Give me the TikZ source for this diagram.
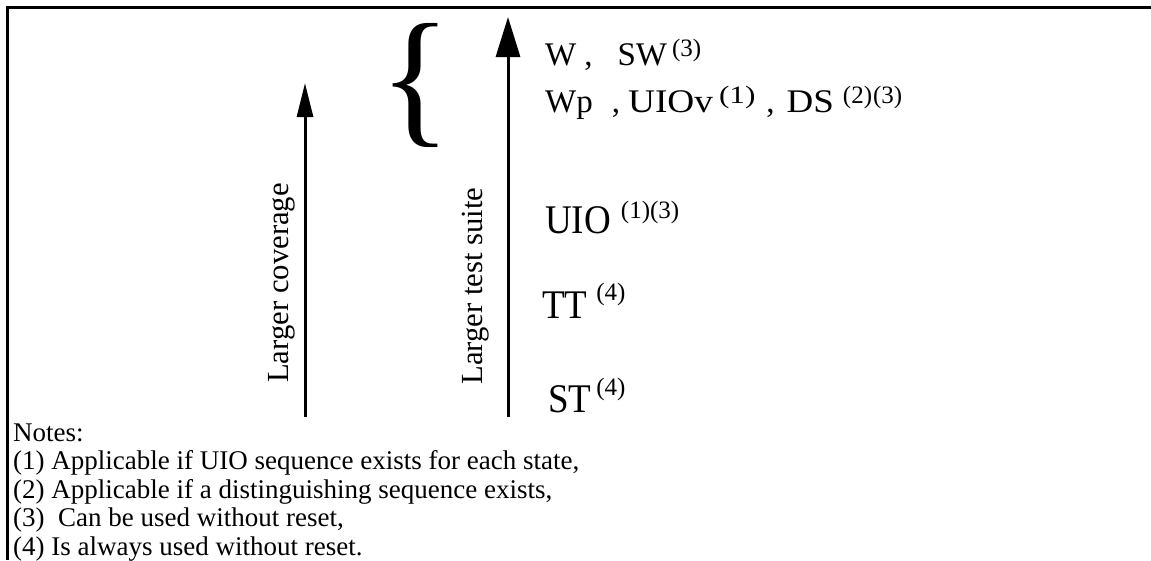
\documentclass[tikz,border=0pt]{standalone}
\usepackage{graphicx}
\usepackage{fontspec}
\setmainfont{Liberation Serif}
\usetikzlibrary{arrows.meta}
\newcommand\fsz[1]{\fontsize{#1}{#1}\selectfont}
% superscript note marker: raise, then text
\newcommand\supr[2]{\raisebox{#1pt}{\fsz{25}#2}}
\newcommand\wider[2]{\scalebox{#1}[1]{#2}}
\newcommand\taller[1]{\scalebox{1}[1.1]{#1}}
\begin{document}
\begin{tikzpicture}[x=1pt,y=-1pt,
  frame/.style={line width=3pt,line join=miter},
  axis/.style={line width=3pt},
  smallhead/.style={-{Triangle[length=34pt,width=16pt]}},
  bighead/.style={-{Triangle[length=40pt,width=24pt]}},
  vlabel/.style={rotate=90,anchor=base,inner sep=0pt,font=\fsz{30.7}},
  upper/.style={anchor=base west,inner sep=0pt,font=\fsz{33}},
  lower/.style={anchor=base west,inner sep=0pt,font=\fsz{37}},
  note/.style={anchor=base west,inner sep=0pt,font=\fsz{27}}]
\useasboundingbox (0,0) rectangle (1151,560);
% open frame: left and top edges
\draw[frame] (7.5,560) -- (7.5,7.5) -- (1151,7.5);
% the two ordering arrows
\coordinate (covlow) at (305,417);
\coordinate (covtop) at (305,83);
\coordinate (suitelow) at (508,417);
\coordinate (suitetop) at (508,17);
\draw[axis,smallhead] (covlow) -- (covtop);
\draw[axis,bighead] (suitelow) -- (suitetop);
\node[vlabel] (cov) at (288,283) {Larger coverage};
\node[vlabel] (suite) at (482,286) {Larger test suite};
% brace grouping the two top rows
\node[inner sep=0pt,font=\fsz{150}] (brace) at (415,85) {\{};
% methods, from largest to smallest test suite
\node[upper] (rowW) at (545,65)
  {W\hspace{8pt},\hspace{25pt}SW\hspace{5pt}\supr{9}{(3)}};
\node[upper] (rowWp) at (545,112)
  {Wp\hspace{19pt},\hspace{8pt}\wider{1.13}{UIOv}\hspace{6pt}\supr{9}{\wider{1.25}{(1)}}\hspace{11pt},\hspace{12pt}\wider{1.12}{DS}\hspace{9pt}\supr{9}{(2)\hspace{1pt}(3)}};
\node[lower] (rowUIO) at (545,233) {\taller{UIO}\hspace{10pt}\supr{15}{(1)(3)}};
\node[lower] (rowTT) at (542,318) {\taller{TT}\hspace{9pt}\supr{18}{(4)}};
\node[lower] (rowST) at (548,412) {\taller{ST}\hspace{5pt}\supr{17}{(4)}};
% notes
\node[note] (n0) at (13,441) {Notes:};
\node[note] (n1) at (13,469.5) {(1) Applicable if UIO sequence exists for each state,};
\node[note] (n2) at (13,498) {(2) Applicable if a distinguishing sequence exists,};
\node[note] (n3) at (13,526.5) {(3)\ \ Can be used without reset,};
\node[note] (n4) at (13,555) {(4) Is always used without reset.};
\end{tikzpicture}
\end{document}
